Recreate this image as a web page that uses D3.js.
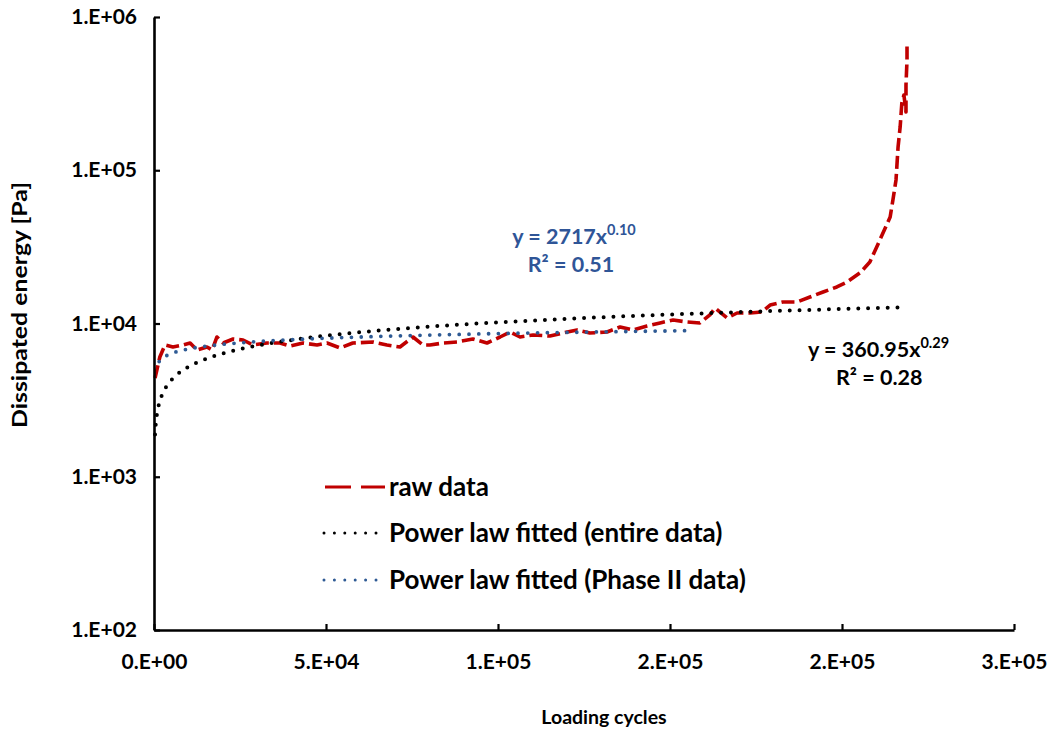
<!DOCTYPE html>
<html>
<head>
<meta charset="utf-8">
<script src="https://cdn.jsdelivr.net/npm/d3@7"></script>
<style>
  html, body { margin: 0; padding: 0; background: #fff; }
  svg { display: block; font-family: Lato, "Open Sans", sans-serif; font-weight: 700; }
</style>
</head>
<body>
<svg id="chart" width="1048" height="734"></svg>
<script>
// Measured dissipated energy per loading cycle
const rawCycles = [300, 1700, 3200, 5500, 8400, 10500, 12500, 15400, 16900, 18300, 20100, 23000, 25900, 28800, 32800, 36600, 39500, 43300, 47400, 50300, 54100, 57800, 63700, 67700, 71500, 75300, 78200, 80200, 84000, 88100, 92700, 96800, 100600, 103500, 106400, 110200, 115100, 118900, 123000, 126700, 131700, 135500, 139200, 143300, 147100, 150900, 154900, 158700, 161600, 163100, 166600, 169500, 173300, 176700, 179100, 182800, 186900, 190700, 194500, 198500, 201500, 205200, 208100, 211000, 214000, 214800, 215700, 216300, 216900, 217400, 218000, 218600, 218600, 218900, 218900];
const rawEnergy = [4410, 6045, 7240, 7025, 7240, 7460, 6715, 7025, 6715, 8165, 7460, 7925, 7805, 7240, 7460, 7460, 7130, 7460, 7240, 7460, 6920, 7460, 7570, 7240, 7025, 8165, 7240, 7240, 7460, 7570, 7925, 7460, 8165, 8800, 8165, 8415, 8285, 8670, 9070, 8670, 8800, 9490, 9070, 9630, 10080, 10540, 10230, 10080, 11370, 12620, 10860, 11710, 11710, 11885, 13200, 13810, 13810, 14890, 16060, 17310, 18660, 21360, 25190, 35060, 49530, 63970, 86400, 141850, 191500, 274800, 309700, 239900, 360000, 524200, 666500];

// Power law fitted to the entire data: y = 360.95 x^0.29
const fitAllCycles = [300, 500, 800, 1200, 1800, 2500, 3500, 5000, 7000, 10000, 14000, 20000, 30000, 45000, 65000, 90000, 120000, 150000, 180000, 218000];
const fitAllEnergy = [1887, 2188, 2508, 2821, 3173, 3490, 3848, 4267, 4705, 5217, 5752, 6379, 7175, 8070, 8977, 9866, 10724, 11441, 12063, 12751];

// Power law fitted to the Phase II data: y = 2717 x^0.10
const fitPhaseCycles = [1500, 2500, 3500, 5000, 7000, 10000, 14000, 20000, 30000, 45000, 65000, 90000, 120000, 156700];
const fitPhaseEnergy = [5646, 5941, 6145, 6368, 6586, 6825, 7059, 7315, 7617, 7932, 8230, 8503, 8750, 8986];

// Axis ticks and their printed labels
const xTickValues = [0, 50000, 100000, 150000, 200000, 250000];
const xTickLabels = ["0.E+00", "5.E+04", "1.E+05", "2.E+05", "2.E+05", "3.E+05"];
const yTickValues = [100, 1000, 10000, 100000, 1000000];
const yTickLabels = ["1.E+02", "1.E+03", "1.E+04", "1.E+05", "1.E+06"];

// Legend entries and fit equations
const seriesNames = ["raw data", "Power law fitted (entire data)", "Power law fitted (Phase II data)"];
const fitAllEquation = ["y = 360.95x", "0.29", "R\u00B2 = 0.28"];
const fitPhaseEquation = ["y = 2717x", "0.10", "R\u00B2 = 0.51"];

const RED = "#C00000", BLACK = "#000000", BLUE = "#2E5A94", BLUE_TEXT = "#2F5597";

const svg = d3.select("#chart");
svg.append("rect").attr("width", 1048).attr("height", 734).attr("fill", "#fff");

const plot = { left: 154, right: 1014, top: 17, bottom: 630 };

const x = d3.scaleLinear().domain([0, 250000]).range([plot.left, plot.right]);
const y = d3.scaleLog().domain([100, 1000000]).range([plot.bottom, plot.top]);

const zipPts = (xs, ys) => xs.map((v, i) => [v, ys[i]]);

// Series
const rawLine = d3.line().x(d => x(d[0])).y(d => y(d[1]));
const fitLine = d3.line().x(d => x(d[0])).y(d => y(d[1])).curve(d3.curveMonotoneX);

svg.append("path")
  .datum(zipPts(rawCycles, rawEnergy))
  .attr("d", rawLine)
  .attr("fill", "none")
  .attr("stroke", RED)
  .attr("stroke-width", 3.6)
  .attr("stroke-dasharray", "13,5")
  .attr("stroke-linejoin", "round");

svg.append("path")
  .datum(zipPts(fitAllCycles, fitAllEnergy))
  .attr("d", fitLine)
  .attr("fill", "none")
  .attr("stroke", BLACK)
  .attr("stroke-width", 4)
  .attr("stroke-linecap", "round")
  .attr("stroke-dasharray", "0,9.8");

svg.append("path")
  .datum(zipPts(fitPhaseCycles, fitPhaseEnergy))
  .attr("d", fitLine)
  .attr("fill", "none")
  .attr("stroke", BLUE)
  .attr("stroke-width", 3.8)
  .attr("stroke-linecap", "round")
  .attr("stroke-dasharray", "0,9.8");

// Axes
const xAxis = d3.axisBottom(x)
  .tickValues(xTickValues)
  .tickFormat((d, i) => xTickLabels[i])
  .tickSizeInner(-6)
  .tickSizeOuter(0)
  .tickPadding(24);

const yAxis = d3.axisLeft(y)
  .tickValues(yTickValues)
  .tickFormat((d, i) => yTickLabels[i])
  .tickSizeInner(-6)
  .tickSizeOuter(0)
  .tickPadding(17);

function styleAxis(g) {
  g.select(".domain").attr("stroke", "#000").attr("stroke-width", 2.6);
  g.selectAll(".tick line").attr("stroke", "#000").attr("stroke-width", 2.2);
  g.selectAll(".tick text")
    .attr("fill", "#000")
    .style("font-family", "Lato, sans-serif")
    .style("font-weight", 700)
    .style("font-size", "21px");
}

svg.append("g").attr("transform", `translate(0,${plot.bottom})`).call(xAxis).call(styleAxis);
svg.append("g").attr("transform", `translate(${plot.left},0)`).call(yAxis).call(styleAxis);

// Axis titles
svg.append("text")
  .attr("x", 604)
  .attr("y", 724)
  .attr("text-anchor", "middle")
  .style("font-size", "19.5px")
  .text("Loading cycles");

svg.append("text")
  .attr("transform", `translate(27,305) rotate(-90)`)
  .attr("text-anchor", "middle")
  .attr("textLength", 246)
  .attr("lengthAdjust", "spacingAndGlyphs")
  .style("font-size", "20px")
  .text("Dissipated energy [Pa]");

// Fit equations
function equation(eq, cx, cy, color, anchor, dx2) {
  const t1 = svg.append("text")
    .attr("x", cx).attr("y", cy)
    .attr("text-anchor", anchor)
    .attr("fill", color)
    .style("font-size", "21.5px");
  t1.append("tspan").text(eq[0]);
  t1.append("tspan").attr("dy", -9).style("font-size", "14.5px").text(eq[1]);
  svg.append("text")
    .attr("x", cx + dx2).attr("y", cy + 28)
    .attr("text-anchor", anchor)
    .attr("fill", color)
    .style("font-size", "21.5px")
    .text(eq[2]);
}
equation(fitPhaseEquation, 574, 244, BLUE_TEXT, "middle", -3);
equation(fitAllEquation, 808, 357, BLACK, "start", 28);

// Legend
const legend = svg.append("g");
const legendRows = [
  { y: 487, color: RED, dash: "26,10", width: 3, cap: "butt" },
  { y: 533, color: BLACK, dash: "0,10.4", width: 3, cap: "round" },
  { y: 580, color: BLUE, dash: "0,10.4", width: 3, cap: "round" }
];
legendRows.forEach((r, i) => {
  legend.append("line")
    .attr("x1", r.cap === "butt" ? 325 : 324)
    .attr("x2", r.cap === "butt" ? 385 : 377)
    .attr("y1", r.y).attr("y2", r.y)
    .attr("stroke", r.color)
    .attr("stroke-width", r.width)
    .attr("stroke-linecap", r.cap)
    .attr("stroke-dasharray", r.dash);
  legend.append("text")
    .attr("x", 389)
    .attr("y", r.y + 9)
    .style("font-size", "26px")
    .text(seriesNames[i]);
});
</script>
</body>
</html>
